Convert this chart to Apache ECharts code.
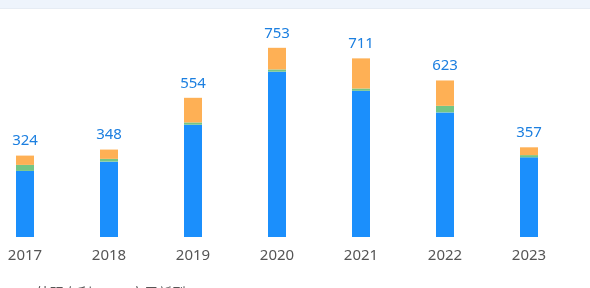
<!DOCTYPE html>
<html><head><meta charset="utf-8">
<script src="https://cdn.jsdelivr.net/npm/echarts@6/dist/echarts.min.js"></script>
<style>html,body{margin:0;padding:0;background:#fff;overflow:hidden}#c{width:607px;height:288px;margin-left:-17px}</style>
</head><body><div id="c"></div>
<script>
const categories = ['2017','2018','2019','2020','2021','2022','2023'];
const invention = [263, 300, 447, 658, 582, 496, 317];
const design = [24, 11, 9, 9, 9, 26, 9];
const utility = [37, 37, 98, 86, 120, 101, 31];
const totals = [324, 348, 554, 753, 711, 623, 357];

const chart = echarts.init(document.getElementById('c'));
const font = '"Noto Sans", "Noto Sans CJK SC", sans-serif';
chart.setOption({
  animation: false,
  graphic: [{type:'rect', left:0, top:0, shape:{width:607, height:8}, style:{fill:'#eef4fc'}, z:-1},
            {type:'rect', left:0, top:8, shape:{width:607, height:1}, style:{fill:'#e6ecf4'}, z:-1}],
  grid: {left: 0, right: 19, top: 36, bottom: 51, containLabel: false},
  legend: {
    data: ['外观专利','实用新型'], left: 33, top: 282, itemWidth: 10, itemHeight: 10, itemGap: 23,
    icon: 'roundRect',
    textStyle: {fontSize: 14, color: '#555', fontFamily: font}
  },
  xAxis: {
    type: 'category', data: categories,
    axisLine: {show: false}, axisTick: {show: false},
    axisLabel: {fontSize: 15, color: '#555', margin: 11, fontFamily: font}
  },
  yAxis: {type: 'value', min: 0, max: 800, show: false, splitLine: {show: false}},
  series: [
    {name: '发明专利', type: 'bar', stack: 'a', data: invention, barWidth: 18, itemStyle: {color: '#1b8ffc'}},
    {name: '外观专利', type: 'bar', stack: 'a', data: design, itemStyle: {color: '#74c585'}},
    {name: '实用新型', type: 'bar', stack: 'a', data: utility, itemStyle: {color: '#feb055'},
     label: {show: true, position: 'top', distance: 7, fontSize: 15, color: '#1c7fe0', fontFamily: font,
       formatter: p => totals[p.dataIndex]}}
  ]
});
</script></body></html>
